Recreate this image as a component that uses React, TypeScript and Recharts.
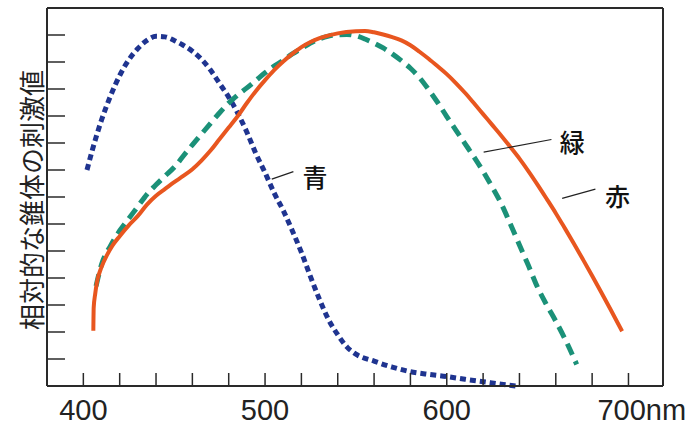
import React from 'react';
import { LineChart, Line, XAxis, YAxis, ReferenceLine, ReferenceDot } from 'recharts';

// wavelength (nm) and relative stimulus values per cone type
const blueNm = [402, 405, 410, 415, 420, 425, 430, 435, 440, 445, 450, 455, 460, 465, 470, 475, 480, 485, 490, 495, 500, 505, 510, 515, 520, 525, 530, 535, 540, 545, 550, 560, 570, 580, 590, 600, 610, 620, 630, 638];
const blueVal = [8.0, 8.75, 9.85, 10.75, 11.5, 12.08, 12.5, 12.8, 12.95, 12.93, 12.8, 12.62, 12.4, 12.1, 11.7, 11.2, 10.7, 10.1, 9.4, 8.6, 7.9, 7.15, 6.5, 5.75, 4.95, 4.05, 3.2, 2.45, 1.9, 1.45, 1.18, 0.92, 0.7, 0.53, 0.43, 0.35, 0.25, 0.16, 0.07, 0];

const greenNm = [407, 410, 415, 420, 425, 430, 435, 440, 445, 450, 455, 460, 465, 470, 475, 480, 485, 490, 495, 500, 505, 510, 515, 520, 525, 530, 535, 540, 545, 550, 555, 560, 565, 570, 575, 580, 585, 590, 595, 600, 605, 610, 615, 620, 625, 630, 635, 640, 645, 650, 655, 660, 665, 671.5];
const greenVal = [3.7, 4.5, 5.2, 5.75, 6.2, 6.65, 7.1, 7.45, 7.78, 8.1, 8.52, 8.93, 9.33, 9.73, 10.12, 10.48, 10.78, 11.04, 11.32, 11.6, 11.85, 12.06, 12.3, 12.5, 12.7, 12.86, 12.96, 13.01, 13.02, 12.97, 12.85, 12.7, 12.52, 12.3, 12.05, 11.77, 11.42, 10.98, 10.5, 9.98, 9.48, 8.98, 8.48, 7.95, 7.37, 6.75, 6.0, 5.22, 4.45, 3.65, 3.0, 2.4, 1.75, 0.8];

const redNm = [405.5, 405.7, 406.5, 407.5, 410, 413, 416, 420, 425, 430, 435, 440, 445, 450, 455, 460, 465, 470, 475, 480, 485, 490, 495, 500, 505, 510, 515, 520, 525, 530, 540, 550, 555, 560, 565, 570, 575, 580, 585, 590, 595, 600, 605, 610, 615, 620, 625, 630, 635, 640, 645, 650, 655, 660, 665, 670, 675, 680, 685, 690, 696.5];
const redVal = [2.05, 2.9, 3.4, 3.85, 4.4, 4.85, 5.2, 5.55, 5.95, 6.3, 6.72, 7.05, 7.3, 7.55, 7.78, 8.03, 8.35, 8.72, 9.15, 9.57, 10.0, 10.48, 10.93, 11.33, 11.7, 12.02, 12.3, 12.55, 12.74, 12.88, 13.06, 13.14, 13.15, 13.1, 13.02, 12.92, 12.8, 12.62, 12.38, 12.12, 11.84, 11.55, 11.22, 10.86, 10.47, 10.07, 9.67, 9.27, 8.85, 8.42, 7.95, 7.45, 6.93, 6.4, 5.84, 5.27, 4.68, 4.08, 3.47, 2.85, 2.03];

const xTicks = [400, 420, 440, 460, 480, 500, 520, 540, 560, 580, 600, 620, 640, 660, 680, 700];
const xLabelTicks = [400, 500, 600, 700];
const yTicks = [1, 2, 3, 4, 5, 6, 7, 8, 9, 10, 11, 12, 13];
const yTitle = '相対的な錐体の刺激値';

// annotation: [label, leader start nm, leader start value, leader end nm, leader end value, text nm, text value]
const annotations: [string, number, number, number, number, number, number][] = [
  ['青', 503.7, 7.66, 515.6, 7.94, 527.5, 7.7],
  ['緑', 620.3, 8.66, 657.6, 9.13, 669, 9.0],
  ['赤', 663.5, 6.95, 681.8, 7.29, 694, 6.98],
];

const toData = (nm: number[], v: number[]) => nm.map((n, i) => ({ nm: n, v: v[i] }));
const blueData = toData(blueNm, blueVal);
const greenData = toData(greenNm, greenVal);
const redData = toData(redNm, redVal);

const AXIS = '#2a2a2a';
const LATIN = '"Liberation Sans", Arial, sans-serif';
const CJK = '"Noto Sans CJK JP", "Noto Sans", sans-serif';

const XTick = (props: any) => {
  const { x, y, payload } = props;
  const v = payload.value;
  if (!xLabelTicks.includes(v)) return null;
  if (v === 700) {
    return (
      <text x={x - 31} y={y} textAnchor="start" fontSize={29} fontFamily={LATIN} fill="#222">
        700nm
      </text>
    );
  }
  return (
    <text x={x} y={y} textAnchor="middle" fontSize={29} fontFamily={LATIN} fill="#222">
      {v}
    </text>
  );
};

const NoTick = () => <g />;

const YTitle = () => (
  <text
    x={30}
    y={200}
    transform="rotate(-90 30 200)"
    textAnchor="middle"
    dominantBaseline="central"
    fontSize={26}
    fontFamily={CJK}
    fill="#222"
  >
    {yTitle}
  </text>
);

export default function App() {
  return (
    <div style={{ position: 'absolute', left: 0, top: 0, background: '#fff' }}>
      <LineChart width={690} height={428} margin={{ top: 8, right: 27, left: 47, bottom: 0 }}>
        <XAxis
          dataKey="nm"
          type="number"
          domain={[380, 719]}
          ticks={xTicks}
          allowDataOverflow
          height={42}
          tickSize={-13}
          tickMargin={47}
          tick={<XTick />}
          axisLine={{ stroke: AXIS, strokeWidth: 2 }}
          tickLine={{ stroke: AXIS, strokeWidth: 1.5 }}
          interval={0}
        />
        <YAxis
          type="number"
          domain={[0, 14]}
          ticks={yTicks}
          mirror
          tickSize={18}
          tick={<NoTick />}
          interval={0}
          axisLine={{ stroke: AXIS, strokeWidth: 2 }}
          tickLine={{ stroke: AXIS, strokeWidth: 1.5 }}
          label={{ content: <YTitle /> }}
        />
        <ReferenceLine y={14} stroke={AXIS} strokeWidth={2} />
        <ReferenceLine x={719} stroke={AXIS} strokeWidth={2} />
        <Line
          data={blueData}
          dataKey="v"
          type="monotone"
          stroke="#1f3490"
          strokeWidth={5}
          strokeDasharray="6 4"
          dot={false}
          activeDot={false}
          isAnimationActive={false}
        />
        <Line
          data={greenData}
          dataKey="v"
          type="monotone"
          stroke="#1b9178"
          strokeWidth={5}
          strokeDasharray="12 7"
          dot={false}
          activeDot={false}
          isAnimationActive={false}
        />
        <Line
          data={redData}
          dataKey="v"
          type="monotone"
          stroke="#e8561f"
          strokeWidth={4}
          dot={false}
          activeDot={false}
          isAnimationActive={false}
        />
        {annotations.map(([t, x1, y1, x2, y2]) => (
          <ReferenceLine
            key={'l' + t}
            segment={[{ x: x1, y: y1 }, { x: x2, y: y2 }]}
            stroke="#222"
            strokeWidth={1.2}
          />
        ))}
        {annotations.map(([t, , , , , tx, ty]) => (
          <ReferenceDot
            key={'t' + t}
            x={tx}
            y={ty}
            r={0}
            fill="none"
            stroke="none"
            label={{ value: t, position: 'center', fontSize: 25, fill: '#111', fontFamily: CJK, fontWeight: 500 }}
          />
        ))}
      </LineChart>
    </div>
  );
}
